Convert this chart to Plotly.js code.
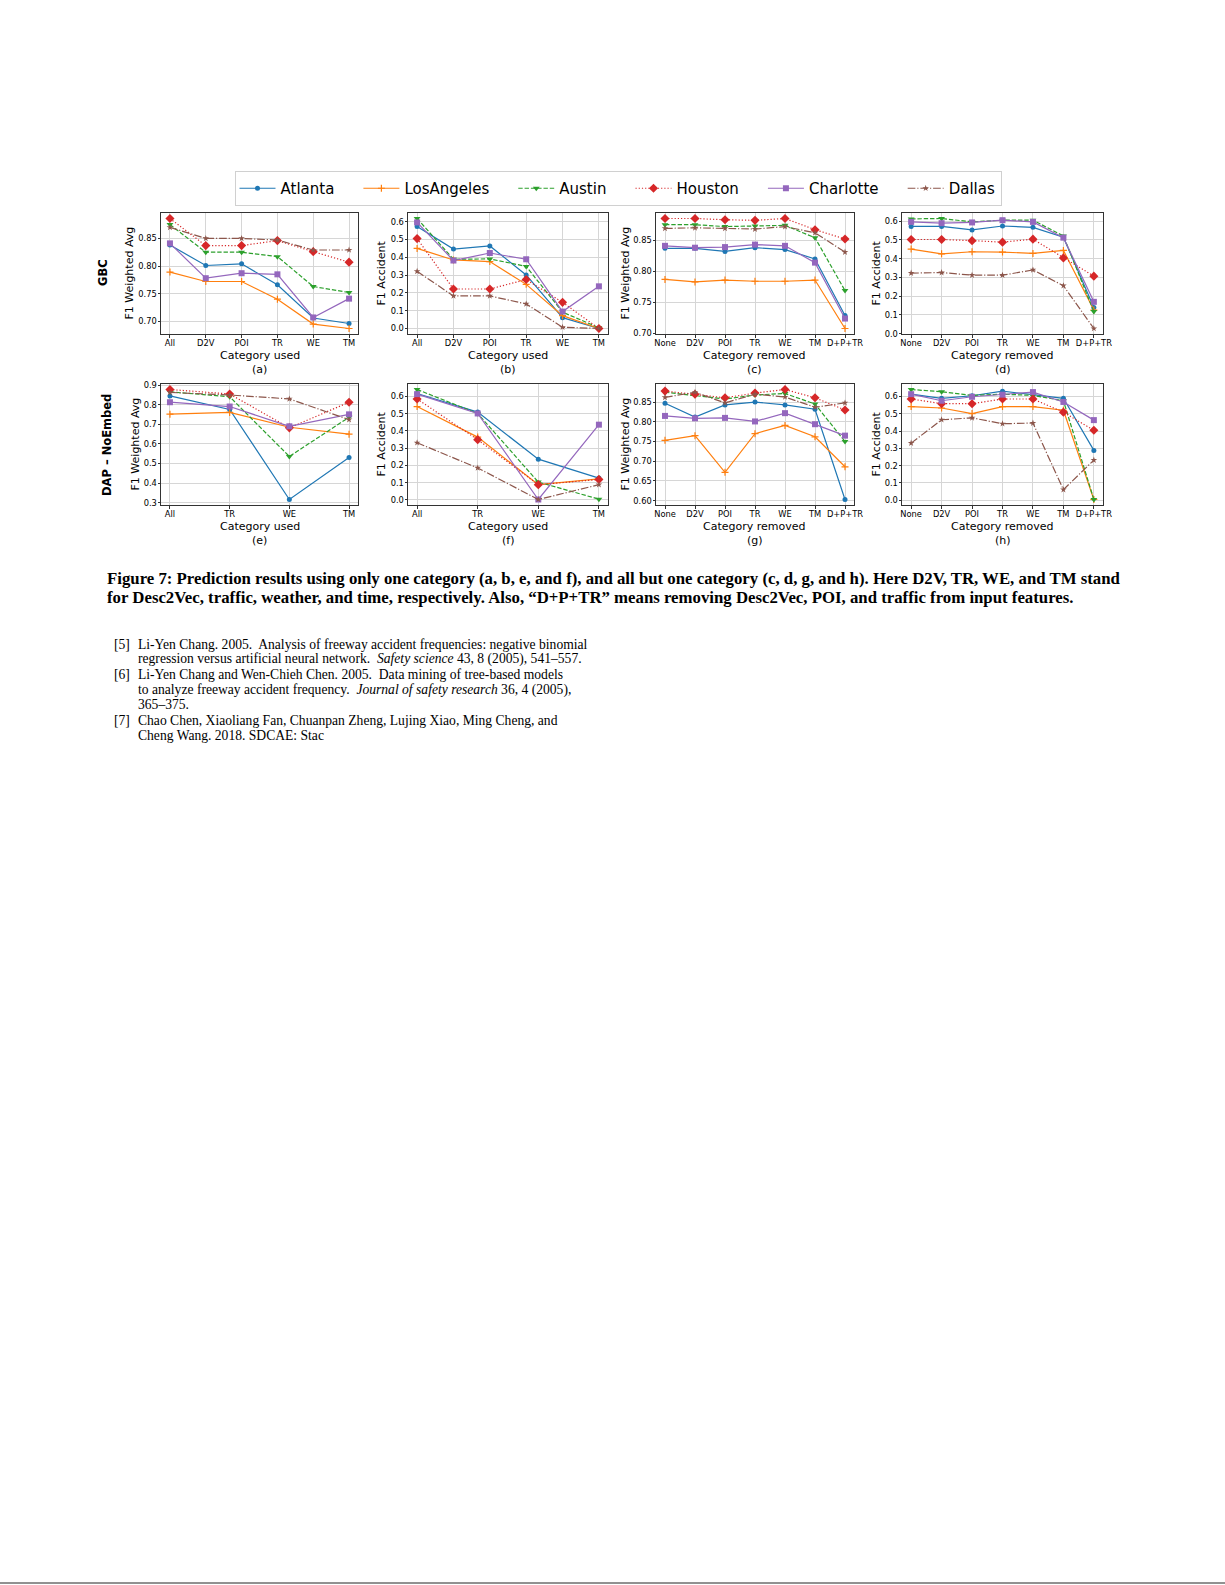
<!DOCTYPE html>
<html>
<head>
<meta charset="utf-8">
<script src="https://cdn.plot.ly/plotly-3.0.1.min.js"></script>
<style>
html,body{margin:0;padding:0;background:#fff;}
#chart{width:1225px;height:1585px;}
</style>
</head>
<body>
<div id="chart"></div>
<script>
// ---------- categories ----------
const catsUsed6 = ['All','D2V','POI','TR','WE','TM'];
const catsUsed4 = ['All','TR','WE','TM'];
const catsRemoved = ['None','D2V','POI','TR','WE','TM','D+P+TR'];
const cities = ['Atlanta','LosAngeles','Austin','Houston','Charlotte','Dallas'];

// ---------- (a) GBC, F1 Weighted Avg, category used ----------
const a_Atlanta    = [0.838,0.801,0.804,0.766,0.706,0.696];
const a_LosAngeles = [0.789,0.772,0.772,0.740,0.695,0.687];
const a_Austin     = [0.875,0.825,0.825,0.817,0.763,0.752];
const a_Houston    = [0.886,0.837,0.837,0.846,0.826,0.807];
const a_Charlotte  = [0.841,0.778,0.787,0.785,0.707,0.741];
const a_Dallas     = [0.870,0.850,0.850,0.847,0.829,0.829];

// ---------- (b) GBC, F1 Accident, category used ----------
const b_Atlanta    = [0.573,0.446,0.464,0.301,0.061,0.000];
const b_LosAngeles = [0.450,0.385,0.376,0.248,0.072,0.000];
const b_Austin     = [0.618,0.389,0.391,0.349,0.092,0.004];
const b_Houston    = [0.505,0.222,0.222,0.275,0.147,0.000];
const b_Charlotte  = [0.596,0.382,0.424,0.389,0.095,0.237];
const b_Dallas     = [0.321,0.183,0.183,0.138,0.007,0.000];

// ---------- (c) GBC, F1 Weighted Avg, category removed ----------
const c_Atlanta    = [0.837,0.837,0.832,0.838,0.835,0.820,0.729];
const c_LosAngeles = [0.787,0.783,0.786,0.784,0.784,0.786,0.708];
const c_Austin     = [0.875,0.875,0.872,0.873,0.874,0.854,0.769];
const c_Houston    = [0.885,0.885,0.883,0.882,0.885,0.867,0.852];
const c_Charlotte  = [0.841,0.838,0.839,0.843,0.841,0.814,0.724];
const c_Dallas     = [0.869,0.870,0.869,0.868,0.872,0.862,0.831];

// ---------- (d) GBC, F1 Accident, category removed ----------
const d_Atlanta    = [0.572,0.572,0.553,0.574,0.567,0.514,0.140];
const d_LosAngeles = [0.451,0.426,0.437,0.435,0.428,0.444,0.126];
const d_Austin     = [0.612,0.614,0.596,0.605,0.605,0.521,0.118];
const d_Houston    = [0.502,0.502,0.496,0.488,0.504,0.404,0.307];
const d_Charlotte  = [0.596,0.589,0.593,0.605,0.596,0.512,0.170];
const d_Dallas     = [0.323,0.326,0.312,0.312,0.340,0.256,0.028];

// ---------- (e) DAP-NoEmbed, F1 Weighted Avg, category used ----------
const e_Atlanta    = [0.845,0.776,0.316,0.531];
const e_LosAngeles = [0.752,0.761,0.685,0.650];
const e_Austin     = [0.866,0.841,0.536,0.736];
const e_Houston    = [0.878,0.855,0.682,0.813];
const e_Charlotte  = [0.813,0.791,0.690,0.751];
const e_Dallas     = [0.863,0.850,0.830,0.724];

// ---------- (f) DAP-NoEmbed, F1 Accident, category used ----------
const f_Atlanta    = [0.617,0.509,0.236,0.126];
const f_LosAngeles = [0.541,0.364,0.088,0.122];
const f_Austin     = [0.640,0.501,0.103,0.004];
const f_Houston    = [0.585,0.349,0.088,0.118];
const f_Charlotte  = [0.613,0.501,0.002,0.436];
const f_Dallas     = [0.331,0.185,0.002,0.088];

// ---------- (g) DAP-NoEmbed, F1 Weighted Avg, category removed ----------
const g_Atlanta    = [0.847,0.812,0.843,0.850,0.843,0.832,0.603];
const g_LosAngeles = [0.753,0.765,0.672,0.770,0.791,0.762,0.686];
const g_Austin     = [0.875,0.867,0.858,0.868,0.872,0.845,0.750];
const g_Houston    = [0.878,0.870,0.861,0.873,0.882,0.861,0.830];
const g_Charlotte  = [0.815,0.809,0.810,0.801,0.822,0.794,0.765];
const g_Dallas     = [0.862,0.875,0.848,0.870,0.863,0.837,0.848];

// ---------- (h) DAP-NoEmbed, F1 Accident, category removed ----------
const h_Atlanta    = [0.613,0.589,0.604,0.630,0.610,0.589,0.288];
const h_LosAngeles = [0.541,0.533,0.501,0.541,0.541,0.520,0.004];
const h_Austin     = [0.640,0.627,0.606,0.613,0.606,0.575,0.004];
const h_Houston    = [0.585,0.558,0.558,0.585,0.585,0.509,0.404];
const h_Charlotte  = [0.613,0.575,0.598,0.610,0.625,0.568,0.463];
const h_Dallas     = [0.330,0.465,0.476,0.442,0.446,0.061,0.232];

// ---------- text ----------
const yTitleW = 'F1 Weighted Avg';
const yTitleA = 'F1 Accident';
const xTitleUsed = 'Category used';
const xTitleRemoved = 'Category removed';
const rowLabels = ['GBC','DAP \u2013 NoEmbed'];
const captionLines = [
 '<b>Figure 7: Prediction results using only one category (a, b, e, and f), and all but one category (c, d, g, and h). Here D2V, TR, WE, and TM stand</b>',
 '<b>for Desc2Vec, traffic, weather, and time, respectively. Also, \u201cD+P+TR\u201d means removing Desc2Vec, POI, and traffic from input features.</b>'
];
const refLines = [
 ['[5]','Li-Yen Chang. 2005.  Analysis of freeway accident frequencies: negative binomial'],
 ['','regression versus artificial neural network.  <i>Safety science</i> 43, 8 (2005), 541\u2013557.'],
 ['[6]','Li-Yen Chang and Wen-Chieh Chen. 2005.  Data mining of tree-based models'],
 ['','to analyze freeway accident frequency.  <i>Journal of safety research</i> 36, 4 (2005),'],
 ['','365\u2013375.'],
 ['[7]','Chao Chen, Xiaoliang Fan, Chuanpan Zheng, Lujing Xiao, Ming Cheng, and'],
 ['','Cheng Wang. 2018. SDCAE: Stac']
];

// ---------- styles ----------
const styles = {
  Atlanta:    {color:'#1f77b4', dash:'solid',                     symbol:'circle',          size:5},
  LosAngeles: {color:'#ff7f0e', dash:'solid',                     symbol:'cross-thin-open', size:5},
  Austin:     {color:'#2ca02c', dash:'4.4px,1.9px',               symbol:'triangle-down',   size:6},
  Houston:    {color:'#d62728', dash:'1.2px,2px',                 symbol:'diamond',         size:7},
  Charlotte:  {color:'#9467bd', dash:'solid',                     symbol:'square',          size:6},
  Dallas:     {color:'#8c564b', dash:'7.7px,1.9px,1.2px,1.9px',   symbol:'star',            size:5}
};
const legendPad = '\u00a0\u00a0\u00a0\u00a0';

const panels = [
 {lab:'(a)', cats:catsUsed6,  yt:yTitleW, xt:xTitleUsed,    dt:0.05, fmt:'.2f', ytx:129, data:{Atlanta:a_Atlanta,LosAngeles:a_LosAngeles,Austin:a_Austin,Houston:a_Houston,Charlotte:a_Charlotte,Dallas:a_Dallas}},
 {lab:'(b)', cats:catsUsed6,  yt:yTitleA, xt:xTitleUsed,    dt:0.1,  fmt:'.1f', ytx:381, data:{Atlanta:b_Atlanta,LosAngeles:b_LosAngeles,Austin:b_Austin,Houston:b_Houston,Charlotte:b_Charlotte,Dallas:b_Dallas}},
 {lab:'(c)', cats:catsRemoved,yt:yTitleW, xt:xTitleRemoved, dt:0.05, fmt:'.2f', ytx:625, data:{Atlanta:c_Atlanta,LosAngeles:c_LosAngeles,Austin:c_Austin,Houston:c_Houston,Charlotte:c_Charlotte,Dallas:c_Dallas}},
 {lab:'(d)', cats:catsRemoved,yt:yTitleA, xt:xTitleRemoved, dt:0.1,  fmt:'.1f', ytx:876, data:{Atlanta:d_Atlanta,LosAngeles:d_LosAngeles,Austin:d_Austin,Houston:d_Houston,Charlotte:d_Charlotte,Dallas:d_Dallas}},
 {lab:'(e)', cats:catsUsed4,  yt:yTitleW, xt:xTitleUsed,    dt:0.1,  fmt:'.1f', ytx:135, data:{Atlanta:e_Atlanta,LosAngeles:e_LosAngeles,Austin:e_Austin,Houston:e_Houston,Charlotte:e_Charlotte,Dallas:e_Dallas}},
 {lab:'(f)', cats:catsUsed4,  yt:yTitleA, xt:xTitleUsed,    dt:0.1,  fmt:'.1f', ytx:381, data:{Atlanta:f_Atlanta,LosAngeles:f_LosAngeles,Austin:f_Austin,Houston:f_Houston,Charlotte:f_Charlotte,Dallas:f_Dallas}},
 {lab:'(g)', cats:catsRemoved,yt:yTitleW, xt:xTitleRemoved, dt:0.05, fmt:'.2f', ytx:625, data:{Atlanta:g_Atlanta,LosAngeles:g_LosAngeles,Austin:g_Austin,Houston:g_Houston,Charlotte:g_Charlotte,Dallas:g_Dallas}},
 {lab:'(h)', cats:catsRemoved,yt:yTitleA, xt:xTitleRemoved, dt:0.1,  fmt:'.1f', ytx:876, data:{Atlanta:h_Atlanta,LosAngeles:h_LosAngeles,Austin:h_Austin,Houston:h_Houston,Charlotte:h_Charlotte,Dallas:h_Dallas}}
];

// ---------- geometry ----------
const W = 1225, H = 1585;
const cols = [[161,358],[408,608],[656,854],[902,1103]];
const rows = [[213,334],[384,505]];
const FONT = 'DejaVu Sans, sans-serif';
const SERIF = 'Liberation Serif, DejaVu Serif, serif';
const px = v => v / W;
const py = v => 1 - v / H;

const traces = [];
const layout = {
  width: W, height: H,
  margin: {l:0, r:0, t:0, b:0},
  paper_bgcolor: '#fff', plot_bgcolor: '#fff',
  showlegend: true,
  legend: {
    orientation: 'h', x: px(618), xanchor: 'center', y: py(171), yanchor: 'top',
    bordercolor: '#d0d0d0', borderwidth: 1, bgcolor: '#fff',
    font: {family: FONT, size: 15, color: '#000'},
    itemwidth: 36, tracegroupgap: 0
  },
  annotations: [],
  shapes: []
};

function ann(text, x, y, size, extra) {
  layout.annotations.push(Object.assign({
    text: text, xref: 'paper', yref: 'paper', x: px(x), y: py(y),
    xanchor: 'center', yanchor: 'middle', showarrow: false,
    font: {family: FONT, size: size, color: '#000'}
  }, extra || {}));
}

panels.forEach((p, i) => {
  const r = Math.floor(i / 4), c = i % 4;
  const n = p.cats.length;
  const sx = i === 0 ? '' : String(i + 1);
  let mn = Infinity, mx = -Infinity;
  cities.forEach(city => p.data[city].forEach(v => { mn = Math.min(mn, v); mx = Math.max(mx, v); }));
  const pad = (mx - mn) * 0.05;
  cities.forEach((city, k) => {
    const s = styles[city];
    traces.push({
      type: 'scatter', mode: 'lines+markers',
      x: p.cats, y: p.data[city],
      xaxis: 'x' + sx, yaxis: 'y' + sx,
      name: k < cities.length - 1 ? city + legendPad : city,
      legendgroup: city, showlegend: i === 0,
      line: {color: s.color, width: 1.2, dash: s.dash},
      marker: {color: s.color, symbol: s.symbol, size: s.size,
               line: {color: s.color, width: s.symbol === 'cross-thin-open' ? 1.2 : 0}}
    });
  });
  const axBase = {
    showline: true, mirror: true, linecolor: '#333', linewidth: 1,
    ticks: 'outside', ticklen: 2.5, tickwidth: 1, tickcolor: '#333',
    ticklabelstandoff: -1,
    showgrid: true, gridcolor: '#d6d6d6', gridwidth: 1, zeroline: false,
    tickfont: {family: FONT, size: 8.3, color: '#000'}
  };
  layout['xaxis' + sx] = Object.assign({}, axBase, {
    domain: [px(cols[c][0]), px(cols[c][1])],
    anchor: 'y' + sx, type: 'category',
    range: [-0.05 * (n - 1), (n - 1) * 1.05]
  });
  layout['yaxis' + sx] = Object.assign({}, axBase, {
    domain: [py(rows[r][1]), py(rows[r][0])],
    anchor: 'x' + sx,
    range: [mn - pad, mx + pad],
    dtick: p.dt, tick0: 0, tickformat: p.fmt
  });
  const cx = (cols[c][0] + cols[c][1]) / 2;
  ann(p.xt, cx, rows[r][1] + 21.5, 11);
  ann(p.lab, cx, rows[r][1] + 35.5, 11);
  ann(p.yt, p.ytx, (rows[r][0] + rows[r][1]) / 2, 11, {textangle: -90});
});

// row labels
ann('<b>' + rowLabels[0] + '</b>', 103, 273, 11.5, {textangle: -90});
ann('<b>' + rowLabels[1] + '</b>', 107, 445, 11.5, {textangle: -90});

// caption
captionLines.forEach((t, k) => {
  ann(t, 105, 578 + 19.4 * k, 16.8, {xanchor: 'left', font: {family: SERIF, size: 16.8, color: '#000'}});
});

// references
refLines.forEach((ln, k) => {
  const yy = 644 + 15.2 * k;
  if (ln[0]) ann(ln[0], 112, yy, 13.6, {xanchor: 'left', font: {family: SERIF, size: 13.6, color: '#000'}});
  ann(ln[1], 136, yy, 13.6, {xanchor: 'left', font: {family: SERIF, size: 13.6, color: '#000'}});
});

// bottom rule
layout.shapes.push({type: 'line', xref: 'paper', yref: 'paper', x0: 0, x1: 1,
  y0: py(1583), y1: py(1583), line: {color: '#222', width: 1}});

Plotly.newPlot('chart', traces, layout, {staticPlot: true, displayModeBar: false});
</script>
</body>
</html>
